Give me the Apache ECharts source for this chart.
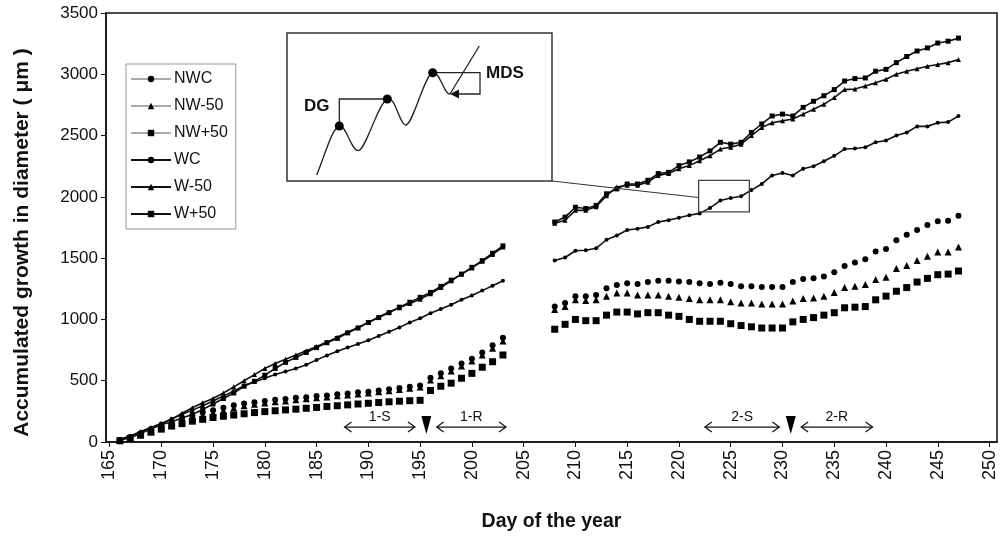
<!DOCTYPE html>
<html>
<head>
<meta charset="utf-8">
<script src="https://cdn.jsdelivr.net/npm/echarts@6/dist/echarts.min.js"></script>
<style>
  html, body { margin: 0; padding: 0; background: #fff; }
  #main { width: 1008px; height: 537px; }
</style>
</head>
<body>
<div id="main"></div>
<script>
// day of the year, first and second measuring period
const days1 = [166, 167, 168, 169, 170, 171, 172, 173, 174, 175, 176, 177, 178, 179, 180, 181, 182, 183, 184, 185,
  186, 187, 188, 189, 190, 191, 192, 193, 194, 195, 196, 197, 198, 199, 200, 201, 202, 203]
const days2 = [208, 209, 210, 211, 212, 213, 214, 215, 216, 217, 218, 219, 220, 221, 222, 223, 224, 225, 226, 227,
  228, 229, 230, 231, 232, 233, 234, 235, 236, 237, 238, 239, 240, 241, 242, 243, 244, 245, 246, 247]
const xTicks = [165, 170, 175, 180, 185, 190, 195, 200, 205, 210, 215, 220, 225, 230, 235, 240, 245, 250]

// accumulated growth (µm), period 1
const nwc1 = [15, 40, 70, 100, 130, 160, 190, 215, 240, 260, 280, 300, 315, 325, 335, 345, 350, 360, 365, 375,
  380, 390, 395, 405, 410, 420, 430, 440, 450, 460, 525, 560, 600, 640, 680, 730, 790, 850]
const nwm1 = [12, 35, 62, 90, 118, 145, 172, 195, 218, 238, 258, 278, 295, 307, 318, 328, 335, 345, 352, 362,
  368, 377, 384, 392, 400, 410, 418, 428, 438, 448, 505, 540, 580, 620, 660, 710, 765, 825]
const nwp1 = [10, 30, 55, 80, 105, 130, 150, 170, 185, 200, 210, 220, 230, 240, 248, 255, 262, 268, 275, 282,
  290, 296, 303, 310, 316, 322, 328, 333, 337, 340, 420, 455, 480, 520, 560, 610, 655, 710]
const wc1 = [15, 45, 80, 115, 150, 190, 225, 260, 295, 335, 375, 415, 460, 490, 520, 550, 575, 600, 630, 670,
  705, 740, 770, 800, 830, 865, 900, 935, 975, 1010, 1050, 1085, 1120, 1160, 1195, 1235, 1275, 1315]
const wm1 = [20, 50, 85, 118, 150, 185, 235, 280, 320, 355, 400, 450, 500, 550, 600, 640, 675, 710, 745, 780,
  815, 855, 895, 935, 975, 1020, 1060, 1095, 1130, 1165, 1210, 1260, 1315, 1370, 1420, 1475, 1530, 1590]
const wp1 = [15, 35, 70, 105, 140, 165, 195, 225, 265, 310, 355, 400, 455, 495, 545, 600, 650, 690, 730, 770,
  810, 845, 890, 930, 975, 1015, 1055, 1100, 1140, 1180, 1220, 1270, 1320, 1370, 1425, 1480, 1540, 1600]

// accumulated growth (µm), period 2
const nwc2 = [1105, 1135, 1190, 1190, 1200, 1255, 1280, 1295, 1290, 1305, 1315, 1315, 1310, 1305, 1295, 1290, 1300, 1290, 1270, 1270,
  1265, 1265, 1265, 1305, 1330, 1335, 1350, 1385, 1435, 1465, 1490, 1555, 1575, 1645, 1690, 1730, 1770, 1800, 1805, 1845]
const nwm2 = [1080, 1105, 1160, 1155, 1160, 1190, 1215, 1215, 1200, 1200, 1200, 1190, 1180, 1170, 1160, 1160, 1160, 1145, 1135, 1135,
  1125, 1125, 1125, 1150, 1170, 1175, 1190, 1220, 1260, 1270, 1285, 1325, 1345, 1415, 1440, 1480, 1515, 1550, 1550, 1590]
const nwp2 = [920, 960, 1000, 990, 990, 1035, 1060, 1060, 1045, 1055, 1055, 1035, 1025, 1000, 985, 985, 985, 965, 950, 940,
  930, 930, 930, 980, 1000, 1015, 1035, 1055, 1095, 1100, 1105, 1160, 1190, 1230, 1260, 1305, 1335, 1365, 1370, 1395]
const wc2 = [1480, 1505, 1560, 1565, 1580, 1650, 1685, 1730, 1740, 1755, 1795, 1810, 1830, 1850, 1865, 1910, 1970, 1990, 2005, 2055,
  2105, 2175, 2195, 2175, 2230, 2250, 2290, 2335, 2390, 2395, 2405, 2445, 2460, 2500, 2525, 2575, 2575, 2605, 2610, 2660]
const wm2 = [1785, 1810, 1890, 1890, 1920, 2010, 2080, 2095, 2095, 2120, 2175, 2190, 2230, 2255, 2295, 2335, 2390, 2405, 2430, 2500,
  2565, 2605, 2620, 2635, 2675, 2715, 2755, 2810, 2875, 2880, 2905, 2930, 2960, 3000, 3025, 3045, 3065, 3080, 3095, 3120]
const wp2 = [1795, 1835, 1915, 1905, 1930, 2025, 2065, 2105, 2105, 2135, 2190, 2200, 2255, 2285, 2325, 2375, 2445, 2430, 2445, 2525,
  2595, 2660, 2675, 2660, 2730, 2780, 2825, 2875, 2945, 2965, 2970, 3025, 3040, 3095, 3145, 3190, 3215, 3255, 3270, 3295]

// stress / recovery periods (day ranges) and drought marks
const periods = [
  { label: '1-S', from: 187.7, to: 194.5 },
  { label: '1-R', from: 196.6, to: 203.3 },
  { label: '2-S', from: 222.5, to: 229.7 },
  { label: '2-R', from: 231.8, to: 238.7 }
]
const dropDays = [195.6, 230.8]

const FONT = "'Liberation Sans', Arial, sans-serif"

function joinSegs (s1, s2) {
  const a = days1.map((d, i) => [d, s1[i]])
  const b = days2.map((d, i) => [d, s2[i]])
  return a.concat([[205.5, '-']], b)
}

function makeSeries (name, symbol, size, s1, s2, withLine) {
  return {
    name: name,
    type: 'line',
    data: joinSegs(s1, s2),
    symbol: symbol,
    symbolSize: size,
    showSymbol: true,
    connectNulls: false,
    itemStyle: { color: '#000', borderWidth: 0 },
    lineStyle: withLine ? { color: '#111', width: 1.6 } : { color: '#000', width: 0, opacity: 0 },
    emphasis: { disabled: true },
    animation: false,
    z: withLine ? 3 : 2
  }
}

const chart = echarts.init(document.getElementById('main'))

const option = {
  backgroundColor: '#fff',
  animation: false,
  textStyle: { fontFamily: FONT },
  grid: {
    left: 106, right: 11, top: 13, bottom: 92,
    show: true, borderColor: '#111', borderWidth: 1.5, backgroundColor: 'transparent'
  },
  legend: {
    orient: 'vertical',
    left: 126, top: 64,
    padding: [7, 8, 7, 4],
    itemWidth: 40, itemHeight: 8, itemGap: 11,
    borderColor: '#999', borderWidth: 1,
    textStyle: { fontFamily: FONT, fontSize: 16, color: '#111', padding: [0, 0, 0, -2] },
    data: [
      { name: 'NWC', lineStyle: { opacity: 1, width: 1, color: '#555' } },
      { name: 'NW-50', lineStyle: { opacity: 1, width: 1, color: '#555' } },
      { name: 'NW+50', lineStyle: { opacity: 1, width: 1, color: '#555' } },
      { name: 'WC' },
      { name: 'W-50' },
      { name: 'W+50' }
    ]
  },
  xAxis: {
    type: 'value',
    min: 164.66, max: 250.72,
    name: 'Day of the year',
    nameLocation: 'middle',
    nameGap: 70,
    nameTextStyle: { fontFamily: FONT, fontSize: 19.5, fontWeight: 'bold', color: '#111' },
    axisLine: { lineStyle: { color: '#111', width: 1.5 } },
    axisTick: { customValues: xTicks, length: 5, lineStyle: { color: '#111' } },
    axisLabel: { customValues: xTicks, rotate: 90, fontSize: 18, color: '#111', margin: 8, fontFamily: FONT, formatter: v => String(v) },
    splitLine: { show: false }
  },
  yAxis: {
    type: 'value',
    min: 0, max: 3500, interval: 500,
    name: 'Accumulated growth in diameter ( \u03bcm )',
    nameLocation: 'middle',
    nameRotate: 90,
    nameGap: 73,
    nameTextStyle: { fontFamily: FONT, fontSize: 21, fontWeight: 'bold', color: '#111', padding: [0, 0, 0, -30] },
    axisLine: { show: true, lineStyle: { color: '#111', width: 1.5 } },
    axisTick: { show: true, length: 5, lineStyle: { color: '#111' } },
    axisLabel: { fontSize: 17, color: '#111', margin: 8, fontFamily: FONT, formatter: v => String(v) },
    splitLine: { show: false }
  },
  series: [
    makeSeries('NWC', 'circle', 6, nwc1, nwc2, false),
    makeSeries('NW-50', 'triangle', 7, nwm1, nwm2, false),
    makeSeries('NW+50', 'rect', 7, nwp1, nwp2, false),
    makeSeries('WC', 'circle', 4, wc1, wc2, true),
    makeSeries('W-50', 'triangle', 5, wm1, wm2, true),
    makeSeries('W+50', 'rect', 5, wp1, wp2, true)
  ]
}

chart.setOption(option)

// annotations: period arrows, drought marks, inset sketch
const P = (x, y) => chart.convertToPixel({ gridIndex: 0 }, [x, y])
const els = []
const arrowY = P(0, 122)[1]

periods.forEach(p => {
  const a = P(p.from, 122)
  const b = P(p.to, 122)
  els.push({ type: 'line', shape: { x1: a[0], y1: arrowY, x2: b[0], y2: arrowY }, style: { stroke: '#111', lineWidth: 1.2 }, z: 20 })
  els.push({ type: 'polyline', shape: { points: [[a[0] + 7, arrowY - 5], [a[0], arrowY], [a[0] + 7, arrowY + 5]] }, style: { stroke: '#111', lineWidth: 1.2, fill: null }, z: 20 })
  els.push({ type: 'polyline', shape: { points: [[b[0] - 7, arrowY - 5], [b[0], arrowY], [b[0] - 7, arrowY + 5]] }, style: { stroke: '#111', lineWidth: 1.2, fill: null }, z: 20 })
  els.push({ type: 'text', x: (a[0] + b[0]) / 2, y: arrowY - 10, style: { text: p.label, fontFamily: FONT, fontSize: 14, fill: '#111', align: 'center', verticalAlign: 'middle' }, z: 20 })
})

dropDays.forEach(d => {
  const c = P(d, 122)
  els.push({ type: 'polygon', shape: { points: [[c[0] - 5, arrowY - 11], [c[0] + 5, arrowY - 11], [c[0], arrowY + 7]] }, style: { fill: '#000' }, z: 20 })
})

// zoom box around the WC curve and its connector
const zb1 = P(221.9, 2134)
const zb2 = P(226.8, 1878)
els.push({ type: 'rect', shape: { x: zb1[0], y: zb1[1], width: zb2[0] - zb1[0], height: zb2[1] - zb1[1] }, style: { stroke: '#444', lineWidth: 1.3, fill: null }, z: 20 })
const zc = P(221.9, 1995)
els.push({ type: 'line', shape: { x1: 552, y1: 181, x2: zc[0], y2: zc[1] }, style: { stroke: '#333', lineWidth: 1.1 }, z: 20 })

// inset sketch of daily growth (DG) and maximum daily shrinkage (MDS)
els.push({ type: 'rect', shape: { x: 287, y: 33, width: 265, height: 148 }, style: { stroke: '#333', lineWidth: 1.5, fill: '#fff' }, z: 21 })
const curve = [
  [316.7, 175, 325, 155, 332, 128, 339.3, 126],
  [339.3, 126, 346, 124, 351, 151, 358.3, 150.7],
  [358.3, 150.7, 366, 150, 378, 103, 387.3, 99],
  [387.3, 99, 395, 95, 400, 126, 406, 125],
  [406, 125, 413, 124, 425, 74, 432.7, 72.7],
  [432.7, 72.7, 440, 71, 444, 95, 450, 94]
]
curve.forEach(c => {
  els.push({
    type: 'bezierCurve',
    shape: { x1: c[0], y1: c[1], cpx1: c[2], cpy1: c[3], cpx2: c[4], cpy2: c[5], x2: c[6], y2: c[7] },
    style: { stroke: '#222', lineWidth: 1.3, fill: null },
    z: 22
  })
})
els.push({ type: 'line', shape: { x1: 450, y1: 94, x2: 479.3, y2: 46 }, style: { stroke: '#222', lineWidth: 1.3 }, z: 22 })
els.push({ type: 'polyline', shape: { points: [[339.3, 126], [339.3, 99], [387.3, 99]] }, style: { stroke: '#222', lineWidth: 1.3, fill: null }, z: 22 })
els.push({ type: 'polyline', shape: { points: [[432.7, 72.7], [480, 72.7], [480, 94], [456, 94]] }, style: { stroke: '#222', lineWidth: 1.3, fill: null }, z: 22 })
els.push({ type: 'polygon', shape: { points: [[450, 94], [459, 89.5], [459, 98.5]] }, style: { fill: '#111' }, z: 22 })
;[[339.3, 126], [387.3, 99], [432.7, 72.7]].forEach(pt => {
  els.push({ type: 'circle', shape: { cx: pt[0], cy: pt[1], r: 4.5 }, style: { fill: '#000' }, z: 23 })
})
els.push({ type: 'text', x: 304, y: 106, style: { text: 'DG', fontFamily: FONT, fontSize: 17, fontWeight: 'bold', fill: '#111', verticalAlign: 'middle' }, z: 23 })
els.push({ type: 'text', x: 486, y: 73, style: { text: 'MDS', fontFamily: FONT, fontSize: 17, fontWeight: 'bold', fill: '#111', verticalAlign: 'middle' }, z: 23 })

chart.setOption({ graphic: { elements: els } })
</script>
</body>
</html>
